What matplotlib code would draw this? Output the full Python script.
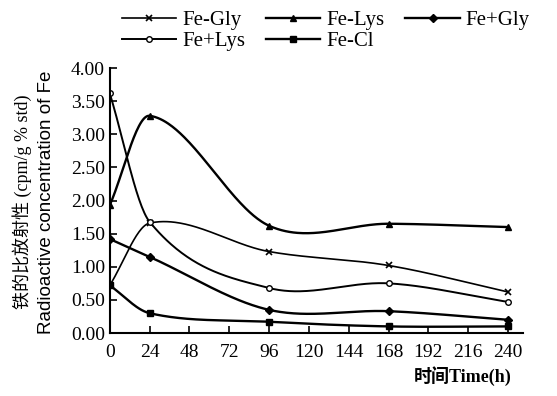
import numpy as np
import matplotlib
matplotlib.use("Agg")
import matplotlib.pyplot as plt

plt.rcParams['font.family'] = ['Liberation Serif', 'Noto Sans CJK SC']

hours = [0, 24, 96, 168, 240]
fe_gly = [0.72, 1.66, 1.23, 1.02, 0.62]
fe_lys = [1.93, 3.28, 1.62, 1.65, 1.60]
fe_plus_gly = [1.42, 1.15, 0.35, 0.33, 0.20]
fe_plus_lys = [3.62, 1.68, 0.68, 0.75, 0.47]
fe_cl = [0.72, 0.30, 0.17, 0.10, 0.10]

x_ticks = list(range(0, 241, 24))
y_ticks = [0, 0.5, 1, 1.5, 2, 2.5, 3, 3.5, 4]


def smooth_path(x, y, n=300):
    # Hermite curve with centred-difference tangents, only for the drawn path
    x = np.asarray(x, float)
    y = np.asarray(y, float)
    k = len(x)
    m = np.zeros(k)
    m[0] = (y[1] - y[0]) / (x[1] - x[0])
    m[-1] = (y[-1] - y[-2]) / (x[-1] - x[-2])
    for i in range(1, k - 1):
        m[i] = (y[i + 1] - y[i - 1]) / (x[i + 1] - x[i - 1])
    xs = np.linspace(x[0], x[-1], n)
    idx = np.clip(np.searchsorted(x, xs) - 1, 0, k - 2)
    h = x[idx + 1] - x[idx]
    t = (xs - x[idx]) / h
    h00 = 2 * t ** 3 - 3 * t ** 2 + 1
    h10 = t ** 3 - 2 * t ** 2 + t
    h01 = -2 * t ** 3 + 3 * t ** 2
    h11 = t ** 3 - t ** 2
    ys = h00 * y[idx] + h10 * h * m[idx] + h01 * y[idx + 1] + h11 * h * m[idx + 1]
    return xs, ys


series = [
    ('Fe-Gly', fe_gly, dict(marker='x', ms=4, mew=1.2, lw=1.2)),
    ('Fe-Lys', fe_lys, dict(marker='^', ms=4, lw=1.7)),
    ('Fe+Gly', fe_plus_gly, dict(marker='D', ms=4, lw=1.7)),
    ('Fe+Lys', fe_plus_lys, dict(marker='o', ms=4, mfc='white', lw=1.4)),
    ('Fe-Cl', fe_cl, dict(marker='s', ms=4, lw=1.7)),
]

fig = plt.figure(figsize=(5.57, 3.96), dpi=100)
ax = fig.add_axes([0.197, 0.159, 0.742, 0.669])

handles = {}
for name, vals, st in series:
    xs, ys = smooth_path(hours, vals)
    ax.plot(xs, ys, color='black', lw=st['lw'])
    ax.plot(hours, vals, ls='none', color='black', marker=st['marker'], ms=st['ms'],
            mfc=st.get('mfc', 'black'), mew=st.get('mew', 1.0))
    h, = ax.plot([], [], color='black', lw=st['lw'], marker=st['marker'], ms=st['ms'],
                 mfc=st.get('mfc', 'black'), mew=st.get('mew', 1.0))
    handles[name] = h

ax.set_xlim(0, 249)
ax.set_ylim(0, 4)
ax.set_xticks(x_ticks)
ax.set_yticks(y_ticks)
ax.set_yticklabels([f'{v:.2f}' for v in y_ticks])
ax.tick_params(direction='in', labelsize=14, length=5, width=1.2)
ax.tick_params(axis='x', pad=8)
for s in ['top', 'right']:
    ax.spines[s].set_visible(False)
for s in ['left', 'bottom']:
    ax.spines[s].set_linewidth(1.5)

fig.text(22 / 557, 0.49, '铁的比放射性 (cpm/g % std)', rotation=90,
         ha='center', va='center', fontsize=13)
fig.text(47 / 557, 0.49, 'Radioactive concentration of Fe', rotation=90,
         ha='center', va='center', fontsize=13.5, family='Liberation Sans')
fig.text(512 / 557, 1 - 376 / 396, '时间Time(h)', ha='right', va='center',
         fontsize=13, fontweight='bold')

order = ['Fe-Gly', 'Fe+Lys', 'Fe-Lys', 'Fe-Cl', 'Fe+Gly']
fig.legend([handles[n] for n in order], order, ncol=3,
           loc='upper left', bbox_to_anchor=(0.185, 1.02), frameon=False,
           fontsize=15, handlelength=2.6, columnspacing=1.0,
           labelspacing=0.05, handletextpad=0.3)

fig.savefig('out.png', dpi=100)
